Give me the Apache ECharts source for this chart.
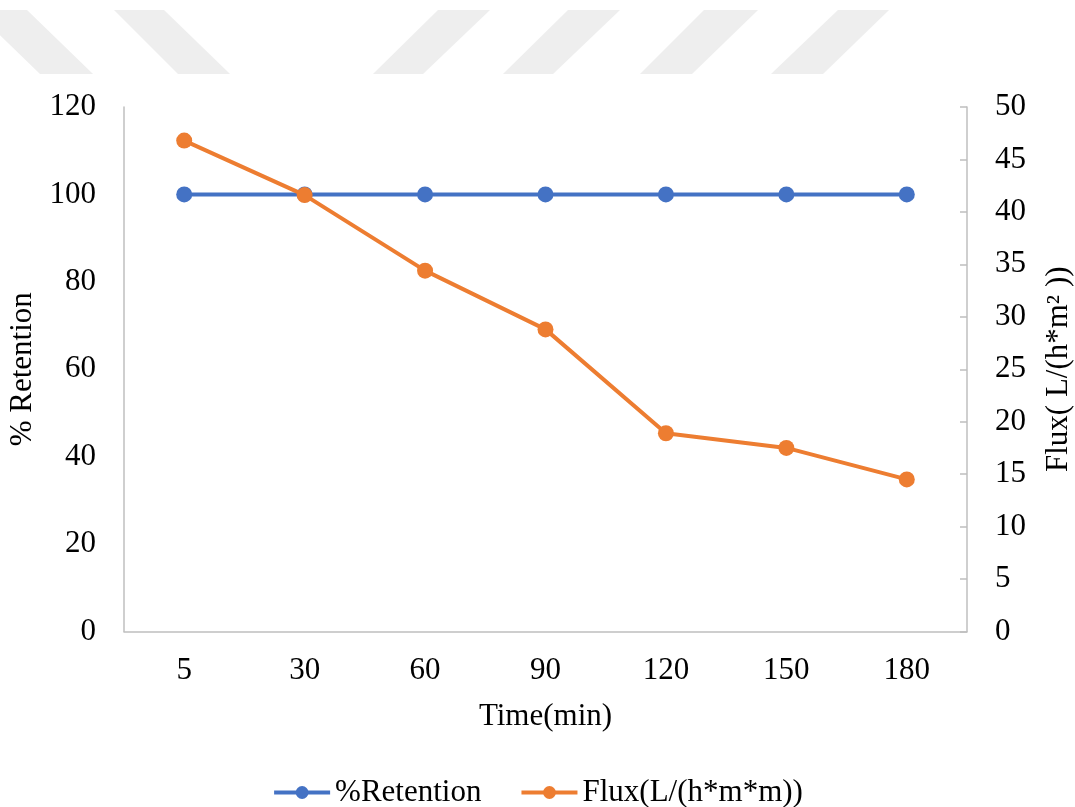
<!DOCTYPE html>
<html>
<head>
<meta charset="utf-8">
<script src="https://cdn.jsdelivr.net/npm/echarts@6/dist/echarts.min.js"></script>
<style>
  html, body { margin: 0; padding: 0; background: #ffffff; }
  #chart { width: 1075px; height: 807px; }
</style>
</head>
<body>
<div id="chart"></div>
<script>
// Sampling times (min)
const times = ['5', '30', '60', '90', '120', '150', '180'];
// Retention (%)
const retention = [100, 100, 100, 100, 100, 100, 100];
// Permeate flux L/(h*m^2)
const flux = [46.8, 41.6, 34.4, 28.8, 18.9, 17.5, 14.5];

const FONT = '"Liberation Serif", "Times New Roman", serif';
const TXT = '#000000';
const AXIS = '#bfbfbf';
const FS = 31;

// Faint diagonal stripes along the top edge
const stripes = [
  [[-26, 10], [27, 10], [93, 74], [40, 74]],
  [[114, 10], [164, 10], [230, 74], [178, 74]],
  [[438, 10], [490, 10], [423, 74], [373, 74]],
  [[568, 10], [620, 10], [553, 74], [503, 74]],
  [[704, 10], [758, 10], [692, 74], [640, 74]],
  [[838, 10], [889, 10], [823, 74], [771, 74]]
];

const chart = echarts.init(document.getElementById('chart'));
chart.setOption({
  backgroundColor: '#ffffff',
  animation: false,
  textStyle: { fontFamily: FONT, color: TXT },
  graphic: stripes.map(p => ({
    type: 'polygon',
    z: -10,
    silent: true,
    shape: { points: p },
    style: { fill: '#eeeeee' }
  })),
  grid: {
    left: 124, right: 108, top: 107, bottom: 175.5,
    containLabel: false,
    outerBoundsMode: 'none'
  },
  legend: {
    top: 772,
    left: 'center',
    itemWidth: 56,
    itemHeight: 16,
    itemGap: 38,
    lineStyle: { width: 4 },
    textStyle: { fontFamily: FONT, fontSize: FS, color: TXT },
    data: ['%Retention', 'Flux(L/(h*m*m))']
  },
  xAxis: {
    type: 'category',
    data: times,
    boundaryGap: true,
    name: 'Time(min)',
    nameLocation: 'middle',
    nameGap: 70,
    nameTextStyle: { fontFamily: FONT, fontSize: FS, color: TXT },
    axisLine: { lineStyle: { color: AXIS, width: 1.5 } },
    axisTick: { show: false },
    axisLabel: { fontFamily: FONT, fontSize: FS, color: TXT, margin: 24 },
    splitLine: { show: false }
  },
  yAxis: [
    {
      type: 'value',
      min: 0, max: 120, interval: 20,
      position: 'left',
      name: '% Retention',
      nameLocation: 'middle',
      nameRotate: 90,
      nameGap: 76,
      nameTextStyle: { fontFamily: FONT, fontSize: FS, color: TXT },
      axisLine: { show: true, lineStyle: { color: AXIS, width: 1.5 } },
      axisTick: { show: false },
      axisLabel: { fontFamily: FONT, fontSize: FS, color: TXT, margin: 28 },
      splitLine: { show: false }
    },
    {
      type: 'value',
      min: 0, max: 50, interval: 5,
      position: 'right',
      name: 'Flux( L/(h*m\u00B2 ))',
      nameLocation: 'middle',
      nameRotate: 90,
      nameGap: 76,
      nameTextStyle: { fontFamily: FONT, fontSize: FS, color: TXT },
      axisLine: { show: true, lineStyle: { color: AXIS, width: 1.5 } },
      axisTick: { show: true, inside: true, length: 7, lineStyle: { color: AXIS, width: 1.5 } },
      axisLabel: { fontFamily: FONT, fontSize: FS, color: TXT, margin: 28 },
      splitLine: { show: false }
    }
  ],
  series: [
    {
      name: '%Retention',
      type: 'line',
      yAxisIndex: 0,
      data: retention,
      color: '#4472C4',
      symbol: 'circle',
      symbolSize: 16,
      lineStyle: { width: 4, color: '#4472C4' },
      itemStyle: { color: '#4472C4' },
      z: 2
    },
    {
      name: 'Flux(L/(h*m*m))',
      type: 'line',
      yAxisIndex: 1,
      data: flux,
      color: '#ED7D31',
      symbol: 'circle',
      symbolSize: 16,
      lineStyle: { width: 4, color: '#ED7D31' },
      itemStyle: { color: '#ED7D31' },
      z: 3
    }
  ]
});
</script>
</body>
</html>
